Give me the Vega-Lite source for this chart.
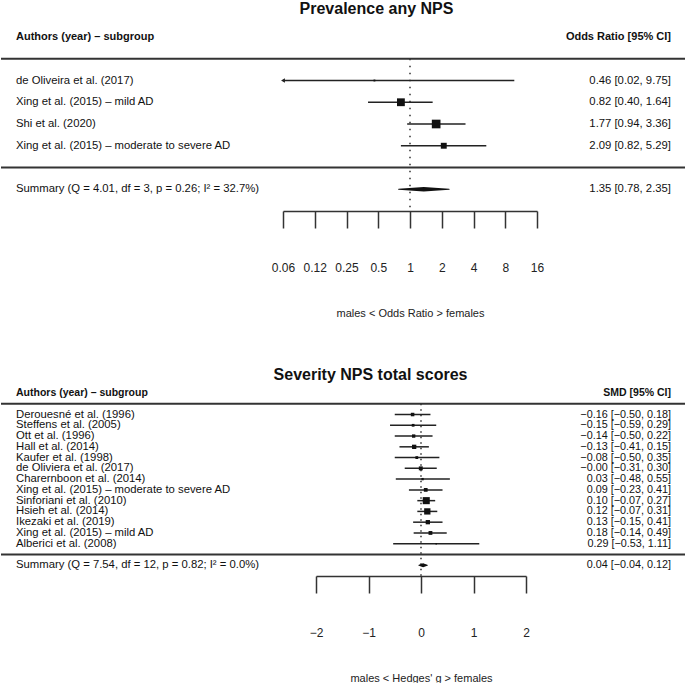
{
  "$schema": "https://vega.github.io/schema/vega-lite/v6.json",
  "padding": {"left": 0, "right": 0, "top": 1, "bottom": 0},
  "background": "white",
  "spacing": 49,
  "config": {
    "view": {"stroke": null},
    "font": "Liberation Sans",
    "text": {"font": "Liberation Sans", "fontSize": 11.3, "color": "#111"},
    "title": {"font": "Liberation Sans", "fontSize": 16, "fontWeight": "bold", "color": "#111", "anchor": "middle"},
    "axis": {"labelFont": "Liberation Sans", "titleFont": "Liberation Sans", "grid": false, "domainWidth": 1.5, "domainColor": "#333", "tickWidth": 1.5, "tickColor": "#333", "tickSize": 17, "labelPadding": 34, "labelFontSize": 12, "labelColor": "#222", "titleFontSize": 11, "titleFontWeight": "normal", "titleColor": "#222", "titlePadding": 34, "labelFlush": false, "labelOverlap": false}
  },
  "datasets": {
    "top": [
      {"study": "de Oliveira et al. (2017)", "est": 0.46, "lo": 0.02, "hi": 9.75, "weight": 2, "ci": "0.46 [0.02, 9.75]"},
      {"study": "Xing et al. (2015) – mild AD", "est": 0.82, "lo": 0.40, "hi": 1.64, "weight": 35, "ci": "0.82 [0.40, 1.64]"},
      {"study": "Shi et al. (2020)", "est": 1.77, "lo": 0.94, "hi": 3.36, "weight": 43, "ci": "1.77 [0.94, 3.36]"},
      {"study": "Xing et al. (2015) – moderate to severe AD", "est": 2.09, "lo": 0.82, "hi": 5.29, "weight": 20, "ci": "2.09 [0.82, 5.29]"}
    ],
    "topsum": [
      {"study": "Summary", "label": "Summary (Q = 4.01, df = 3, p = 0.26; I² = 32.7%)", "est": 1.35, "lo": 0.78, "hi": 2.35, "ci": "1.35 [0.78, 2.35]"}
    ],
    "bot": [
      {"study": "Derouesné et al. (1996)", "est": -0.16, "lo": -0.50, "hi": 0.18, "weight": 5.7, "ci": "−0.16 [−0.50, 0.18]"},
      {"study": "Steffens et al. (2005)", "est": -0.15, "lo": -0.59, "hi": 0.29, "weight": 3.5, "ci": "−0.15 [−0.59, 0.29]"},
      {"study": "Ott et al. (1996)", "est": -0.14, "lo": -0.50, "hi": 0.22, "weight": 5.2, "ci": "−0.14 [−0.50, 0.22]"},
      {"study": "Hall et al. (2014)", "est": -0.13, "lo": -0.41, "hi": 0.15, "weight": 8.5, "ci": "−0.13 [−0.41, 0.15]"},
      {"study": "Kaufer et al. (1998)", "est": -0.08, "lo": -0.50, "hi": 0.35, "weight": 3.6, "ci": "−0.08 [−0.50, 0.35]"},
      {"study": "de Oliviera et al. (2017)", "est": -0.004, "lo": -0.31, "hi": 0.30, "weight": 7.1, "ci": "−0.00 [−0.31, 0.30]"},
      {"study": "Charernboon et al. (2014)", "est": 0.03, "lo": -0.48, "hi": 0.55, "weight": 2.5, "ci": "0.03 [−0.48, 0.55]"},
      {"study": "Xing et al. (2015) – moderate to severe AD", "est": 0.09, "lo": -0.23, "hi": 0.41, "weight": 6.5, "ci": "0.09 [−0.23, 0.41]"},
      {"study": "Sinforiani et al. (2010)", "est": 0.10, "lo": -0.07, "hi": 0.27, "weight": 23.0, "ci": "0.10 [−0.07, 0.27]"},
      {"study": "Hsieh et al. (2014)", "est": 0.12, "lo": -0.07, "hi": 0.31, "weight": 18.3, "ci": "0.12 [−0.07, 0.31]"},
      {"study": "Ikezaki et al. (2019)", "est": 0.13, "lo": -0.15, "hi": 0.41, "weight": 8.5, "ci": "0.13 [−0.15, 0.41]"},
      {"study": "Xing et al. (2015) – mild AD", "est": 0.18, "lo": -0.14, "hi": 0.49, "weight": 6.7, "ci": "0.18 [−0.14, 0.49]"},
      {"study": "Alberici et al. (2008)", "est": 0.29, "lo": -0.53, "hi": 1.11, "weight": 1.0, "ci": "0.29 [−0.53, 1.11]"}
    ],
    "botsum": [
      {"study": "Summary", "label": "Summary (Q = 7.54, df = 12, p = 0.82; I² = 0.0%)", "est": 0.04, "lo": -0.04, "hi": 0.12, "ci": "0.04 [−0.04, 0.12]"}
    ]
  },
  "vconcat": [
    {
      "title": {"text": "Prevalence any NPS", "offset": 14, "dx": 33},
      "spacing": 0,
      "bounds": "flush",
      "hconcat": [
        {
          "width": 282, "height": 174,
          "layer": [
            {"data": {"name": "top"}, "mark": {"type": "text", "align": "left"},
             "encoding": {"y": {"field": "study", "type": "nominal", "scale": {"type": "point", "padding": 0, "domain": ["H", "L1", "de Oliveira et al. (2017)", "Xing et al. (2015) – mild AD", "Shi et al. (2020)", "Xing et al. (2015) – moderate to severe AD", "L2", "Summary", "A"]}, "axis": null},
                          "x": {"datum": 0, "type": "quantitative", "scale": {"domain": [0, 1], "range": [15, 282]}, "axis": null},
                          "text": {"field": "study"}}},
            {"data": {"name": "topsum"}, "mark": {"type": "text", "align": "left"},
             "encoding": {"y": {"field": "study", "type": "nominal"}, "x": {"datum": 0, "type": "quantitative"}, "text": {"field": "label"}}},
            {"data": {"values": [{}]}, "mark": {"type": "text", "align": "left", "fontWeight": "bold", "fontSize": 11},
             "encoding": {"y": {"datum": "H", "type": "nominal"}, "x": {"datum": 0, "type": "quantitative"}, "text": {"value": "Authors (year) – subgroup"}}},
            {"data": {"values": [{}]}, "mark": {"type": "rule", "strokeWidth": 2, "color": "#333"},
             "encoding": {"y": {"datum": "L1", "type": "nominal"}}},
            {"data": {"values": [{}]}, "mark": {"type": "rule", "strokeWidth": 2, "color": "#333"},
             "encoding": {"y": {"datum": "L2", "type": "nominal"}}}
          ]
        },
        {
          "width": 254, "height": 174,
          "layer": [
            {"data": {"values": [{}]}, "mark": {"type": "rule", "strokeWidth": 1.3, "strokeDash": [1.5, 5.5], "color": "#111"},
             "encoding": {"x": {"datum": 1, "type": "quantitative", "scale": {"type": "log", "base": 2, "domain": [0.0625, 16], "nice": false}},
                          "y": {"datum": "L1", "type": "nominal", "scale": {"type": "point", "padding": 0, "domain": ["H", "L1", "de Oliveira et al. (2017)", "Xing et al. (2015) – mild AD", "Shi et al. (2020)", "Xing et al. (2015) – moderate to severe AD", "L2", "Summary", "A"]}, "axis": null},
                          "y2": {"datum": "A"}}},
            {"data": {"values": [{}]}, "mark": {"type": "rule", "strokeWidth": 2, "color": "#333"},
             "encoding": {"y": {"datum": "L1", "type": "nominal"}}},
            {"data": {"values": [{}]}, "mark": {"type": "rule", "strokeWidth": 2, "color": "#333"},
             "encoding": {"y": {"datum": "L2", "type": "nominal"}}},
            {"data": {"name": "top"}, "mark": {"type": "rule", "strokeWidth": 1.5, "color": "#222", "clip": true},
             "encoding": {"x": {"field": "lo", "type": "quantitative",
                                "axis": {"title": "males < Odds Ratio > females", "values": [0.0625, 0.125, 0.25, 0.5, 1, 2, 4, 8, 16],
                                         "labelExpr": "datum.value < 0.07 ? '0.06' : datum.value < 0.2 ? '0.12' : datum.value < 0.3 ? '0.25' : datum.value < 0.6 ? '0.5' : format(datum.value, 'd')"}},
                          "x2": {"field": "hi"},
                          "y": {"field": "study", "type": "nominal"}}},
            {"data": {"name": "top"}, "transform": [{"filter": "datum.lo < 0.0625"}],
             "mark": {"type": "point", "shape": "triangle-left", "filled": true, "size": 20, "color": "#222", "opacity": 1},
             "encoding": {"x": {"datum": 0.0625, "type": "quantitative"}, "y": {"field": "study", "type": "nominal"}}},
            {"data": {"name": "top"}, "mark": {"type": "point", "shape": "square", "filled": true, "color": "#111", "opacity": 1},
             "encoding": {"x": {"field": "est", "type": "quantitative"}, "y": {"field": "study", "type": "nominal"},
                          "size": {"field": "weight", "type": "quantitative", "scale": {"type": "linear", "domain": [0, 43], "range": [0, 75]}, "legend": null}}},
            {"data": {"name": "topsum"}, "transform": [{"fold": ["lo", "est", "hi"], "as": ["part", "val"]}],
             "mark": {"type": "trail", "color": "#111"},
             "encoding": {"x": {"field": "val", "type": "quantitative"}, "y": {"field": "study", "type": "nominal"},
                          "size": {"field": "part", "type": "nominal", "scale": {"type": "ordinal", "domain": ["lo", "est", "hi"], "range": [0, 4.5, 0]}, "legend": null}}}
          ]
        },
        {
          "width": 149, "height": 174,
          "layer": [
            {"data": {"name": "top"}, "mark": {"type": "text", "align": "right"},
             "encoding": {"y": {"field": "study", "type": "nominal", "scale": {"type": "point", "padding": 0, "domain": ["H", "L1", "de Oliveira et al. (2017)", "Xing et al. (2015) – mild AD", "Shi et al. (2020)", "Xing et al. (2015) – moderate to severe AD", "L2", "Summary", "A"]}, "axis": null},
                          "x": {"datum": 1, "type": "quantitative", "scale": {"domain": [0, 1], "range": [0, 134]}, "axis": null},
                          "text": {"field": "ci"}}},
            {"data": {"name": "topsum"}, "mark": {"type": "text", "align": "right"},
             "encoding": {"y": {"field": "study", "type": "nominal"}, "x": {"datum": 1, "type": "quantitative"}, "text": {"field": "ci"}}},
            {"data": {"values": [{}]}, "mark": {"type": "text", "align": "right", "fontWeight": "bold", "fontSize": 11},
             "encoding": {"y": {"datum": "H", "type": "nominal"}, "x": {"datum": 1, "type": "quantitative"}, "text": {"value": "Odds Ratio [95% CI]"}}},
            {"data": {"values": [{}]}, "mark": {"type": "rule", "strokeWidth": 2, "color": "#333"},
             "encoding": {"y": {"datum": "L1", "type": "nominal"}}},
            {"data": {"values": [{}]}, "mark": {"type": "rule", "strokeWidth": 2, "color": "#333"},
             "encoding": {"y": {"datum": "L2", "type": "nominal"}}}
          ]
        }
      ]
    },
    {
      "title": {"text": "Severity NPS total scores", "offset": 5, "dx": 27},
      "spacing": 0,
      "bounds": "flush",
      "hconcat": [
        {
          "width": 315, "height": 183,
          "layer": [
            {"data": {"name": "bot"}, "mark": {"type": "text", "align": "left", "fontSize": 11.3},
             "encoding": {"y": {"field": "study", "type": "nominal", "scale": {"type": "point", "padding": 0, "domain": ["H", "L1", "Derouesné et al. (1996)", "Steffens et al. (2005)", "Ott et al. (1996)", "Hall et al. (2014)", "Kaufer et al. (1998)", "de Oliviera et al. (2017)", "Charernboon et al. (2014)", "Xing et al. (2015) – moderate to severe AD", "Sinforiani et al. (2010)", "Hsieh et al. (2014)", "Ikezaki et al. (2019)", "Xing et al. (2015) – mild AD", "Alberici et al. (2008)", "L2", "Summary", "A"]}, "axis": null},
                          "x": {"datum": 0, "type": "quantitative", "scale": {"domain": [0, 1], "range": [15, 315]}, "axis": null},
                          "text": {"field": "study"}}},
            {"data": {"name": "botsum"}, "mark": {"type": "text", "align": "left", "fontSize": 11.3},
             "encoding": {"y": {"field": "study", "type": "nominal"}, "x": {"datum": 0, "type": "quantitative"}, "text": {"field": "label"}}},
            {"data": {"values": [{}]}, "mark": {"type": "text", "align": "left", "fontWeight": "bold", "fontSize": 10.5},
             "encoding": {"y": {"datum": "H", "type": "nominal"}, "x": {"datum": 0, "type": "quantitative"}, "text": {"value": "Authors (year) – subgroup"}}},
            {"data": {"values": [{}]}, "mark": {"type": "rule", "strokeWidth": 2, "color": "#333"},
             "encoding": {"y": {"datum": "L1", "type": "nominal"}}},
            {"data": {"values": [{}]}, "mark": {"type": "rule", "strokeWidth": 2, "color": "#333"},
             "encoding": {"y": {"datum": "L2", "type": "nominal"}}}
          ]
        },
        {
          "width": 210, "height": 183,
          "layer": [
            {"data": {"values": [{}]}, "mark": {"type": "rule", "strokeWidth": 1.3, "strokeDash": [1.5, 4], "color": "#111"},
             "encoding": {"x": {"datum": 0, "type": "quantitative", "scale": {"domain": [-2, 2], "nice": false, "zero": false}},
                          "y": {"datum": "L1", "type": "nominal", "scale": {"type": "point", "padding": 0, "domain": ["H", "L1", "Derouesné et al. (1996)", "Steffens et al. (2005)", "Ott et al. (1996)", "Hall et al. (2014)", "Kaufer et al. (1998)", "de Oliviera et al. (2017)", "Charernboon et al. (2014)", "Xing et al. (2015) – moderate to severe AD", "Sinforiani et al. (2010)", "Hsieh et al. (2014)", "Ikezaki et al. (2019)", "Xing et al. (2015) – mild AD", "Alberici et al. (2008)", "L2", "Summary", "A"]}, "axis": null},
                          "y2": {"datum": "A"}}},
            {"data": {"values": [{}]}, "mark": {"type": "rule", "strokeWidth": 2, "color": "#333"},
             "encoding": {"y": {"datum": "L1", "type": "nominal"}}},
            {"data": {"values": [{}]}, "mark": {"type": "rule", "strokeWidth": 2, "color": "#333"},
             "encoding": {"y": {"datum": "L2", "type": "nominal"}}},
            {"data": {"name": "bot"}, "mark": {"type": "rule", "strokeWidth": 1.5, "color": "#222", "clip": true},
             "encoding": {"x": {"field": "lo", "type": "quantitative",
                                "axis": {"title": "males < Hedges' g > females", "values": [-2, -1, 0, 1, 2], "format": "d"}},
                          "x2": {"field": "hi"},
                          "y": {"field": "study", "type": "nominal"}}},
            {"data": {"name": "bot"}, "mark": {"type": "point", "shape": "square", "filled": true, "color": "#111", "opacity": 1},
             "encoding": {"x": {"field": "est", "type": "quantitative"}, "y": {"field": "study", "type": "nominal"},
                          "size": {"field": "weight", "type": "quantitative", "scale": {"type": "linear", "domain": [0, 23], "range": [0, 50]}, "legend": null}}},
            {"data": {"name": "botsum"}, "transform": [{"fold": ["lo", "est", "hi"], "as": ["part", "val"]}],
             "mark": {"type": "trail", "color": "#111"},
             "encoding": {"x": {"field": "val", "type": "quantitative"}, "y": {"field": "study", "type": "nominal"},
                          "size": {"field": "part", "type": "nominal", "scale": {"type": "ordinal", "domain": ["lo", "est", "hi"], "range": [0, 4, 0]}, "legend": null}}}
          ]
        },
        {
          "width": 160, "height": 183,
          "layer": [
            {"data": {"name": "bot"}, "mark": {"type": "text", "align": "right", "fontSize": 10.8},
             "encoding": {"y": {"field": "study", "type": "nominal", "scale": {"type": "point", "padding": 0, "domain": ["H", "L1", "Derouesné et al. (1996)", "Steffens et al. (2005)", "Ott et al. (1996)", "Hall et al. (2014)", "Kaufer et al. (1998)", "de Oliviera et al. (2017)", "Charernboon et al. (2014)", "Xing et al. (2015) – moderate to severe AD", "Sinforiani et al. (2010)", "Hsieh et al. (2014)", "Ikezaki et al. (2019)", "Xing et al. (2015) – mild AD", "Alberici et al. (2008)", "L2", "Summary", "A"]}, "axis": null},
                          "x": {"datum": 1, "type": "quantitative", "scale": {"domain": [0, 1], "range": [0, 145]}, "axis": null},
                          "text": {"field": "ci"}}},
            {"data": {"name": "botsum"}, "mark": {"type": "text", "align": "right", "fontSize": 10.8},
             "encoding": {"y": {"field": "study", "type": "nominal"}, "x": {"datum": 1, "type": "quantitative"}, "text": {"field": "ci"}}},
            {"data": {"values": [{}]}, "mark": {"type": "text", "align": "right", "fontWeight": "bold", "fontSize": 10.5},
             "encoding": {"y": {"datum": "H", "type": "nominal"}, "x": {"datum": 1, "type": "quantitative"}, "text": {"value": "SMD [95% CI]"}}},
            {"data": {"values": [{}]}, "mark": {"type": "rule", "strokeWidth": 2, "color": "#333"},
             "encoding": {"y": {"datum": "L1", "type": "nominal"}}},
            {"data": {"values": [{}]}, "mark": {"type": "rule", "strokeWidth": 2, "color": "#333"},
             "encoding": {"y": {"datum": "L2", "type": "nominal"}}}
          ]
        }
      ]
    }
  ]
}
